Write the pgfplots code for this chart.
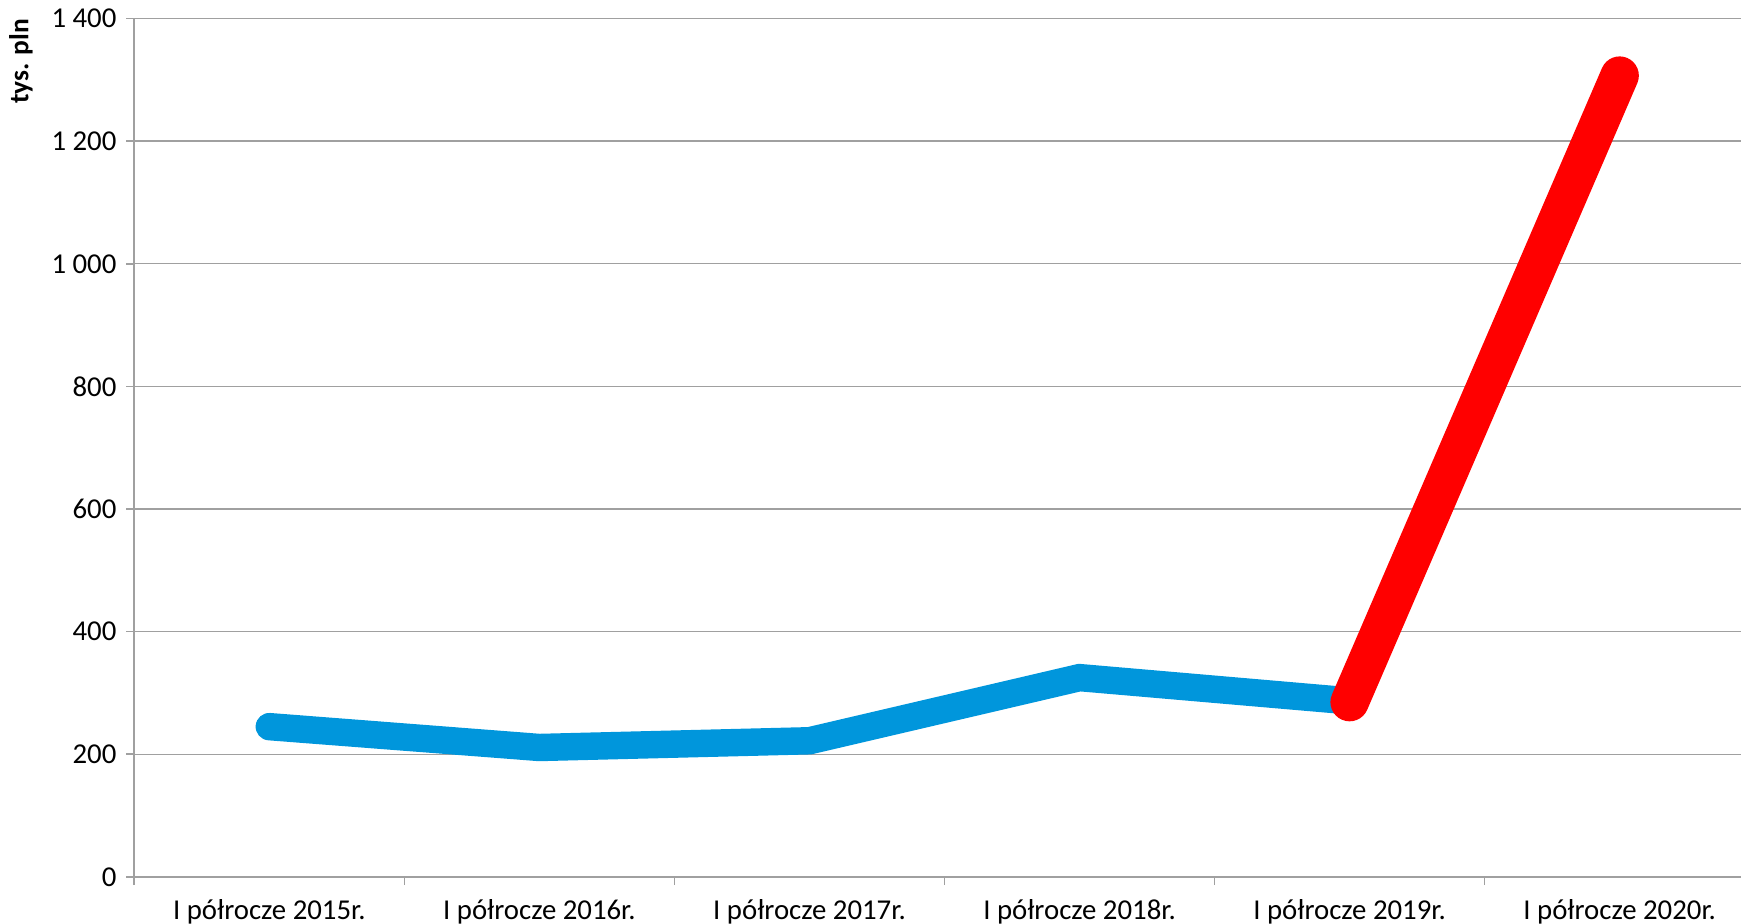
\documentclass[border=0pt]{standalone}
\usepackage{fontspec}
\setmainfont{Carlito}
\usepackage{pgfplots}
\pgfplotsset{compat=1.18}
\definecolor{lineblue}{RGB}{0,150,220}
\definecolor{gridgray}{RGB}{160,160,160}

\begin{document}
\begin{tikzpicture}
\begin{axis}[
    scale only axis,
    width=586pt, height=313pt,
    xmin=-0.5, xmax=5.45,
    ymin=0, ymax=1400,
    ytick={0,200,...,1400},
    xtick={0,...,5},
    xticklabels={I półrocze 2015r.,I półrocze 2016r.,I półrocze 2017r.,
                 I półrocze 2018r.,I półrocze 2019r.,I półrocze 2020r.},
    minor xtick={-0.5,0.5,...,4.5},
    major x tick style={draw=none},
    minor x tick style={gridgray, line width=0.6pt},
    minor tick length=3pt,
    y tick style={gridgray, line width=0.6pt},
    major tick length=3pt,
    tick align=outside,
    axis x line*=bottom, axis y line*=left,
    axis line style={gridgray, line width=0.6pt},
    ymajorgrids, grid style={gridgray, line width=0.5pt},
    tick label style={font=\fontsize{10.5}{12}\selectfont, text=black},
    /pgf/number format/assume math mode=true,
    /pgf/number format/1000 sep={\ },
    xticklabel style={inner sep=0pt, yshift=-5pt},
    ylabel={tys. pln},
    ylabel style={font=\bfseries\fontsize{10}{12}\selectfont, at={(ticklabel cs:0.95)}},
    clip=false,
]
\addplot[lineblue, line width=10pt, line cap=round, line join=miter] coordinates {
 (0,245) (1,211) (2,222) (3,325) (4,287)};
\addplot[red, line width=14pt, line cap=round] coordinates {
 (4,285) (5,1307)};
\end{axis}
\end{tikzpicture}
\end{document}
